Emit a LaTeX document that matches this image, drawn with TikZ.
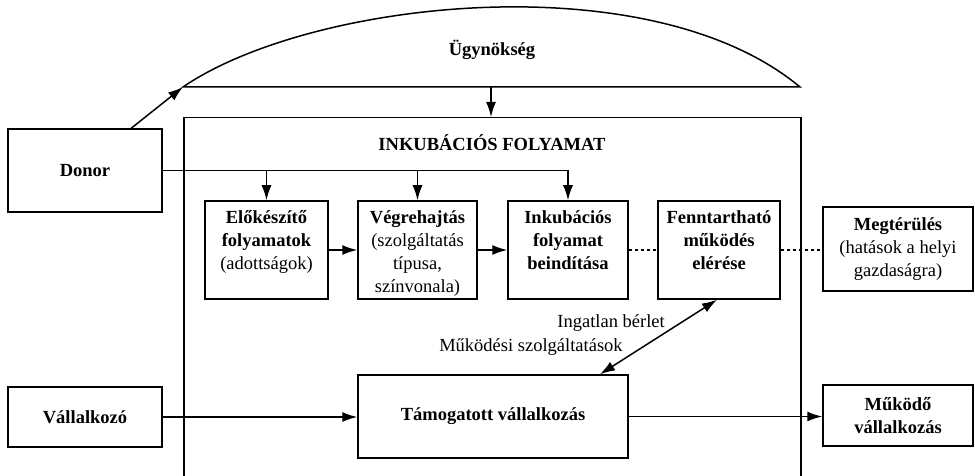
\documentclass[tikz,border=0pt]{standalone}
\usepackage{fontspec}
\setmainfont{Liberation Serif}
\usetikzlibrary{arrows.meta,calc}

\begin{document}
\begin{tikzpicture}[x=1pt,y=-1pt,
  every node/.style={font=\fontsize{18.5}{23}\selectfont},
  box/.style={draw, line width=1.5pt, inner sep=0pt},
  lbl/.style={align=center, inner sep=0pt, anchor=north},
  link/.style={line width=1.5pt},
  arr/.style={link, -{Latex[length=15pt,width=10pt]}},
  dots/.style={link, dash pattern=on 3pt off 3pt}]

\clip (0,0) rectangle (975,476);

% agency dome
\coordinate (agL) at (183,87);
\coordinate (agR) at (800,87);
\coordinate (agD) at (491,87);
\draw[link] (agL) .. controls (310,0) and (650,-38) .. (agR) -- cycle;
\node (agtitle) at (492,50) {\bfseries Ügynökség};

% incubation frame (open at the bottom)
\node[box, minimum width=617pt, minimum height=400pt, anchor=north west] (main) at (183,117) {};
\node (inktitle) at (492,143) {\bfseries INKUBÁCIÓS FOLYAMAT};

% outer boxes
\node[box, minimum width=154pt, minimum height=83pt] (donor) at (85,170.5) {\bfseries Donor};
\node[box, minimum width=154pt, minimum height=60pt] (vall) at (85,417) {\bfseries Vállalkozó};
\node[box, minimum width=150pt, minimum height=84pt, align=center] (megt) at (898,249)
  {\textbf{Megtérülés}\\(hatások a helyi\\gazdaságra)};
\node[box, minimum width=150pt, minimum height=61pt, align=center] (mukodo) at (898,415.5)
  {\textbf{Működő}\\\textbf{vállalkozás}};

% process steps
\node[box, minimum width=123pt, minimum height=98pt] (b1) at (266.5,250) {};
\node[box, minimum width=119pt, minimum height=98pt] (b2) at (417.5,250) {};
\node[box, minimum width=120pt, minimum height=98pt] (b3) at (568,250) {};
\node[box, minimum width=122pt, minimum height=98pt] (b4) at (719,250) {};
\node[lbl] (t1) at ($(b1.north)+(0,10)$) {\textbf{Előkészítő}\\\textbf{folyamatok}\\(adottságok)};
\node[lbl] (t2) at ($(b2.north)+(0,10)$) {\textbf{Végrehajtás}\\(szolgáltatás\\típusa,\\színvonala)};
\node[lbl] (t3) at ($(b3.north)+(0,10)$) {\textbf{Inkubációs}\\\textbf{folyamat}\\\textbf{beindítása}};
\node[lbl] (t4) at ($(b4.north)+(0,10)$) {\textbf{Fenntartható}\\\textbf{működés}\\\textbf{elérése}};

\node[box, minimum width=270pt, minimum height=83pt] (tam) at (493,416.5) {\bfseries Támogatott vállalkozás};

\node[anchor=east, inner sep=0pt] (ingatlan) at (665,323) {Ingatlan bérlet};
\node[inner sep=0pt] (mukszolg) at (531,347) {Működési szolgáltatások};

% connectors
\draw[arr] ($(donor.north west)+(124,0)$) -- (agL);
\draw[arr] (agD) -- (agD |- main.north);
\draw[arr] (donor.east) -| (b3.north);
\draw[arr] (donor.east -| b1.north) -- (b1.north);
\draw[arr] (donor.east -| b2.north) -- (b2.north);
\draw[arr] (b1) -- (b2);
\draw[arr] (b2) -- (b3);
\draw[dots] (b3) -- (b4);
\draw[dots] (b4.east) -- (b4.east -| megt.west);
\draw[link, {Latex[length=15pt,width=10pt]}-{Latex[length=15pt,width=10pt]}]
  ($(tam.north)+(107,0)$) -- ($(b4.south)+(-2,0)$);
\draw[arr] (vall.east) -- (vall.east -| tam.west);
\draw[arr] (tam.east) -- (tam.east -| mukodo.west);
\end{tikzpicture}
\end{document}
